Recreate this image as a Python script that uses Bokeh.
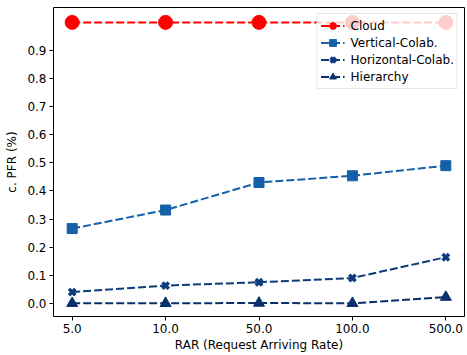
from bokeh.plotting import figure
from bokeh.models import Range1d, FixedTicker, Legend, LegendItem, ColumnDataSource
from bokeh.embed import file_html
from bokeh.resources import INLINE

# Request arriving rates (categorical x positions)
rar_labels = ["5.0", "10.0", "50.0", "100.0", "500.0"]

# PFR per strategy
cloud = [1.0, 1.0, 1.0, 1.0, 1.0]
vertical = [0.266, 0.332, 0.430, 0.454, 0.490]
horizontal = [0.040, 0.063, 0.075, 0.090, 0.164]
hierarchy = [0.000, 0.000, 0.001, 0.000, 0.022]

y_ticks = [0.0, 0.1, 0.2, 0.3, 0.4, 0.5, 0.6, 0.7, 0.8, 0.9]

FONT = "DejaVu Sans"

p = figure(width=467, height=355, output_backend="svg", toolbar_location=None,
           x_range=Range1d(-0.2, 4.2), y_range=Range1d(-0.047, 1.053),
           min_border_left=53, min_border_right=3, min_border_top=7, min_border_bottom=39)

xs = list(range(len(rar_labels)))

series = [
    ("Cloud", cloud, "#ff0000", "circle", 14, None),
    ("Vertical-Colab.", vertical, "#1660a9", "square", 10, None),
    ("Horizontal-Colab.", horizontal, "#0d3b7b", "x", 9, 3.5),
    ("Hierarchy", hierarchy, "#08306b", "triangle", 11, None),
]

items = []
for name, ys, color, marker, size, lw in series:
    src = ColumnDataSource(dict(x=xs, y=ys))
    r_line = p.line("x", "y", source=src, line_color=color, line_width=2, line_dash="8 3")
    r_pts = p.scatter("x", "y", source=src, marker=marker, size=size,
                      fill_color=color, line_color=color,
                      line_width=lw if lw else 1)
    items.append(LegendItem(label=name, renderers=[r_line, r_pts]))

legend = Legend(items=items, location="top_right")
legend.label_text_font = FONT
legend.label_text_font_size = "12px"
legend.label_text_color = "#000000"
legend.background_fill_alpha = 0.8
legend.border_line_color = "#cccccc"
legend.border_line_width = 1
legend.padding = 3
legend.spacing = 0
legend.margin = 6
legend.label_height = 17
legend.glyph_height = 17
legend.glyph_width = 24
legend.label_standoff = 6
p.add_layout(legend, "center")

p.xaxis.ticker = FixedTicker(ticks=xs)
p.xaxis.major_label_overrides = {i: lab for i, lab in enumerate(rar_labels)}
p.yaxis.ticker = FixedTicker(ticks=y_ticks)
p.yaxis.major_label_overrides = {t: f"{t:.1f}" for t in y_ticks}

p.xaxis.axis_label = "RAR (Request Arriving Rate)"
p.yaxis.axis_label = "c. PFR (%)"

for ax in (p.xaxis[0], p.yaxis[0]):
    ax.axis_label_text_font = FONT
    ax.axis_label_text_font_size = "12px"
    ax.axis_label_text_font_style = "normal"
    ax.axis_label_text_color = "#000000"
    ax.major_label_text_font = FONT
    ax.major_label_text_font_size = "12px"
    ax.major_label_text_color = "#000000"
    ax.axis_line_color = None
    ax.major_tick_line_color = "#000000"
    ax.major_tick_in = 0
    ax.major_tick_out = 4
    ax.minor_tick_line_color = None
    ax.major_label_standoff = 3
p.xaxis.axis_label_standoff = 2
p.yaxis.axis_label_standoff = 5

p.xgrid.visible = False
p.ygrid.visible = False
p.outline_line_color = "#000000"
p.outline_line_width = 1
p.background_fill_color = "#ffffff"
p.border_fill_color = "#ffffff"

open("out.html", "w").write(file_html(p, INLINE))
